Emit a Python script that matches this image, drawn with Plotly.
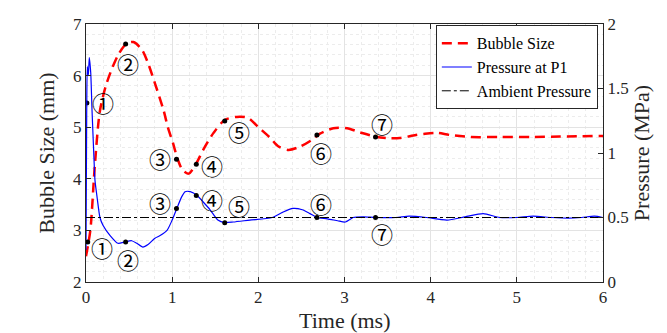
import plotly.graph_objects as go

# bubble size (mm) vs time (ms)
t_size = [0, 0.05, 0.1, 0.16, 0.23, 0.31, 0.38, 0.47, 0.55, 0.65, 0.72, 0.8, 0.9, 0.95, 1.01,
          1.06, 1.12, 1.19, 1.28, 1.36, 1.48, 1.61, 1.75, 1.88, 2.0, 2.14, 2.23, 2.35, 2.48,
          2.62, 2.71, 2.87, 3.03, 3.18, 3.35, 3.49, 3.64, 3.8, 3.92, 4.07, 4.22, 4.46, 4.8,
          5.19, 5.5, 6.0]
size_mm = [2.5, 3.0, 4.2, 5.3, 5.8, 6.17, 6.42, 6.62, 6.65, 6.5, 6.24, 5.85, 5.33, 5.0, 4.69,
           4.4, 4.17, 4.1, 4.3, 4.56, 4.89, 5.14, 5.2, 5.18, 5.0, 4.79, 4.63, 4.56, 4.62,
           4.75, 4.87, 4.98, 4.98, 4.9, 4.82, 4.79, 4.79, 4.84, 4.87, 4.89, 4.85, 4.81, 4.81,
           4.81, 4.82, 4.83]

# pressure at P1 (MPa)
t_p = [0, 0.008, 0.015, 0.027, 0.038, 0.055, 0.07, 0.093, 0.104, 0.128, 0.162, 0.197, 0.28,
       0.37, 0.45, 0.53, 0.59, 0.66, 0.72, 0.8, 0.86, 0.94, 1.0, 1.06, 1.11, 1.15, 1.21, 1.29,
       1.36, 1.44, 1.53, 1.61, 1.71, 1.9, 2.16, 2.28, 2.4, 2.51, 2.6, 2.68, 2.8, 2.92, 3.01,
       3.1, 3.22, 3.36, 3.6, 3.75, 3.95, 4.19, 4.4, 4.61, 4.8, 5.0, 5.19, 5.4, 5.6, 5.75,
       5.9, 6.0]
p_mpa = [0.25, 1.3, 1.67, 1.6, 1.74, 1.62, 1.33, 0.95, 0.79, 0.66, 0.5, 0.44, 0.36,
         0.3, 0.31, 0.32, 0.3, 0.27, 0.29, 0.34, 0.36, 0.4, 0.48, 0.58, 0.66, 0.7, 0.7, 0.67,
         0.62, 0.56, 0.48, 0.46, 0.465, 0.48, 0.5, 0.54, 0.57, 0.56, 0.53, 0.5, 0.49, 0.475, 0.465,
         0.5, 0.505, 0.5, 0.5, 0.51, 0.5, 0.48, 0.505, 0.53, 0.5, 0.5, 0.51, 0.5, 0.495, 0.5,
         0.51, 0.5]

t_amb = [0, 6]
p_amb = [0.5, 0.5]

# numbered points
labels = ["①", "②", "③", "④", "⑤", "⑥", "⑦"]
pt_t = [0.01, 0.46, 1.05, 1.28, 1.61, 2.68, 3.36]
pt_size = [5.47, 6.61, 4.38, 4.28, 5.12, 4.85, 4.81]
pt_tp = [0.02, 0.46, 1.05, 1.28, 1.61, 2.68, 3.36]
pt_p = [0.31, 0.31, 0.57, 0.67, 0.46, 0.5, 0.5]
off_size = [(16, -1), (2, 19), (-16, -1), (16, 1), (14, 10), (4, 17), (6, -14)]
off_p = [(14, 5), (2, 17), (-16, -6), (16, 3), (14, -18), (4, -15), (6, 15)]

serif = "Liberation Serif"
axcol = "#262626"

fig = go.Figure()
fig.add_trace(go.Scatter(x=t_size, y=size_mm, name="Bubble Size", mode="lines",
                         line=dict(color="#ff0000", width=2.5, dash="10px,6px", shape="spline", smoothing=0.8)))
fig.add_trace(go.Scatter(x=t_p, y=p_mpa, name="Pressure at P1", mode="lines", yaxis="y2",
                         line=dict(color="#0000ff", width=1.2, shape="spline", smoothing=0.6)))
fig.add_trace(go.Scatter(x=t_amb, y=p_amb, name="Ambient Pressure", mode="lines", yaxis="y2",
                         line=dict(color="black", width=1, dash="dashdot")))
fig.add_trace(go.Scatter(x=pt_t, y=pt_size, mode="markers", showlegend=False,
                         marker=dict(color="black", size=5)))
fig.add_trace(go.Scatter(x=pt_tp, y=pt_p, mode="markers", showlegend=False, yaxis="y2",
                         marker=dict(color="black", size=5)))

for i, lab in enumerate(labels):
    fig.add_annotation(x=pt_t[i], y=pt_size[i], text=lab, showarrow=True, arrowcolor="rgba(0,0,0,0)",
                       ax=off_size[i][0], ay=off_size[i][1], borderpad=0,
                       font=dict(family="Noto Sans CJK JP", size=22, color="black"))
    fig.add_annotation(x=pt_tp[i], y=pt_p[i], yref="y2", text=lab, showarrow=True, arrowcolor="rgba(0,0,0,0)",
                       ax=off_p[i][0], ay=off_p[i][1], borderpad=0,
                       font=dict(family="Noto Sans CJK JP", size=22, color="black"))

# x axis title as an annotation so it sits where the reference has it
fig.add_annotation(x=0.5, y=-0.15, xref="paper", yref="paper", text="Time (ms)", showarrow=False,
                   yanchor="middle", font=dict(family=serif, size=22, color=axcol))

fig.update_layout(
    width=667, height=333,
    margin=dict(l=86, r=64, t=24, b=51),
    paper_bgcolor="white", plot_bgcolor="white",
    font=dict(family=serif, size=17, color=axcol),
    showlegend=True,
    legend=dict(x=0.99, y=0.995, xanchor="right", yanchor="top", bgcolor="white",
                bordercolor="#262626", borderwidth=1, font=dict(size=16, family=serif, color="black"),
                tracegroupgap=0, itemwidth=30),
    xaxis=dict(range=[0, 6], dtick=1, showline=True, linecolor=axcol, mirror="ticks", ticks="inside",
               ticklen=5, tickcolor=axcol, showgrid=True, gridcolor="#e3e3e3", zeroline=False,
               minor=dict(dtick=0.2, showgrid=True, gridcolor="#ececec", griddash="dot")),
    yaxis=dict(range=[2, 7], dtick=1, showline=True, linecolor=axcol, mirror=True, ticks="inside",
               ticklen=5, tickcolor=axcol, showgrid=True, gridcolor="#e3e3e3", zeroline=False,
               minor=dict(dtick=0.2, showgrid=True, gridcolor="#ececec", griddash="dot"),
               title=dict(text="Bubble Size (mm)", font=dict(size=22), standoff=12)),
    yaxis2=dict(range=[0, 2], dtick=0.5, overlaying="y", side="right", showline=True, linecolor=axcol,
                ticks="inside", ticklen=5, tickcolor=axcol, showgrid=False, zeroline=False,
                title=dict(text="Pressure (MPa)", font=dict(size=22), standoff=4)),
)

# the page body has a default 8px margin; drop it so the figure fills the window
fig.write_html("out.html", config={"displayModeBar": False},
               post_script="document.body.style.margin='0';")
